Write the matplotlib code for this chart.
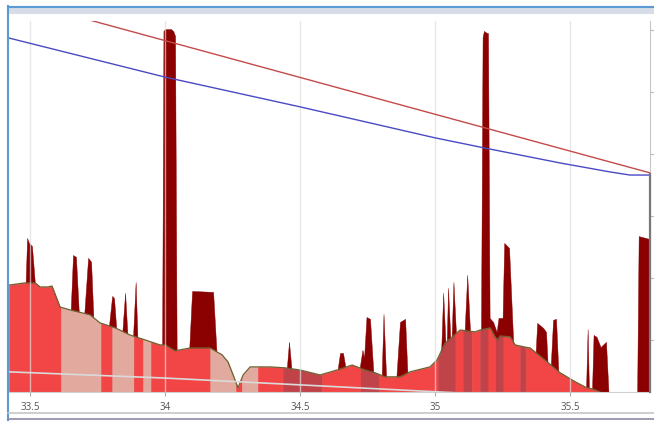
import numpy as np
import matplotlib.pyplot as plt
import matplotlib
from matplotlib.lines import Line2D
from matplotlib.patches import Rectangle

matplotlib.use('Agg')

# Elevation profile (distance in km, elevation)
prof_km = [33.422, 33.481, 33.519, 33.537, 33.567, 33.581, 33.611, 33.648, 33.722, 33.759,
           33.815, 33.870, 33.926, 33.981, 34.000, 34.037, 34.093, 34.167, 34.211, 34.233,
           34.252, 34.270, 34.289, 34.315, 34.389, 34.444, 34.500, 34.574, 34.637, 34.693,
           34.741, 34.778, 34.815, 34.870, 34.907, 34.981, 35.007, 35.037, 35.093, 35.148,
           35.167, 35.204, 35.222, 35.230, 35.241, 35.278, 35.296, 35.333, 35.352, 35.407,
           35.463, 35.519, 35.556, 35.593, 35.611, 35.620]
prof_val = [37.7, 38.4, 38.4, 37.1, 37.1, 37.4, 30.6, 29.7, 28.1, 25.5,
            23.9, 21.6, 20.0, 18.4, 18.4, 16.5, 17.4, 17.4, 15.2, 12.9,
            8.7, 4.5, 8.7, 11.3, 11.3, 11.0, 10.3, 8.7, 10.3, 11.9,
            10.3, 9.4, 8.1, 8.1, 9.7, 11.3, 13.5, 19.0, 23.2, 22.6,
            23.2, 23.9, 21.0, 20.0, 21.3, 21.0, 18.4, 17.7, 17.4, 13.5,
            9.4, 6.5, 4.8, 3.9, 3.2, 0.0]

# Dark series, one group per spike, rising from about the profile level
spike_km = [
    [33.483, 33.489, 33.496, 33.507, 33.519],
    [33.650, 33.659, 33.670, 33.681],
    [33.700, 33.715, 33.726, 33.735],
    [33.791, 33.804, 33.811, 33.820],
    [33.841, 33.852, 33.861],
    [33.881, 33.891, 33.898],
    [33.989, 33.994, 34.000, 34.022, 34.030, 34.037, 34.043],
    [34.089, 34.100, 34.178, 34.191],
    [34.450, 34.459, 34.469],
    [34.637, 34.648, 34.659, 34.670],
    [34.719, 34.731, 34.737, 34.746, 34.759, 34.772],
    [34.802, 34.809, 34.819],
    [34.856, 34.870, 34.889, 34.898],
    [35.022, 35.030, 35.039],
    [35.043, 35.048, 35.057],
    [35.061, 35.068, 35.078],
    [35.109, 35.119, 35.130],
    [35.170, 35.176, 35.181, 35.192, 35.196, 35.202, 35.215, 35.228, 35.235,
     35.250, 35.256, 35.274, 35.289, 35.293],
    [35.372, 35.378, 35.400, 35.411, 35.417],
    [35.428, 35.437, 35.448, 35.457],
    [35.559, 35.565, 35.570],
    [35.581, 35.587, 35.598, 35.613, 35.633, 35.644],
    [35.748, 35.754, 35.793, 35.796],
]
spike_val = [
    [37.0, 52.9, 51.3, 50.3, 37.0],
    [28.5, 47.4, 46.8, 28.0],
    [27.5, 46.5, 45.2, 26.0],
    [23.5, 34.2, 33.5, 22.7],
    [21.8, 35.2, 21.0],
    [20.3, 38.7, 19.8],
    [17.4, 119.7, 120.3, 120.3, 119.7, 118.1, 15.6],
    [16.3, 35.8, 35.5, 15.3],
    [9.9, 19.4, 9.7],
    [9.3, 15.8, 15.8, 10.1],
    [10.0, 16.8, 14.2, 27.4, 26.8, 8.6],
    [7.5, 28.4, 7.1],
    [7.1, 25.8, 26.8, 8.2],
    [15.0, 35.2, 18.0],
    [18.5, 36.8, 19.5],
    [19.8, 38.7, 21.0],
    [22.0, 41.0, 21.8],
    [22.2, 117.8, 119.7, 119.0, 119.0, 27.1, 25.8, 22.6, 27.1,
     27.1, 51.3, 49.7, 20.0, 17.8],
    [15.0, 25.5, 23.9, 22.6, 11.8],
    [11.0, 26.5, 26.8, 8.8],
    [3.7, 23.5, 3.4],
    [3.0, 21.6, 21.0, 17.7, 19.4, 0],
    [0, 53.5, 52.6, 52.6],
]

# Shading bands along the profile
band_edges = [33.422, 33.615, 33.763, 33.804, 33.885, 33.919, 33.948, 34.167, 34.263,
              34.285, 34.344, 34.437, 34.581, 34.726, 34.793, 35.011, 35.074, 35.104,
              35.137, 35.167, 35.196, 35.226, 35.252, 35.315, 35.337, 35.620]
band_kind = ['r', 'p', 'r', 'p', 'r', 'p', 'r', 'p', 'r', 'p', 'r', 'd', 'r',
             'd', 'r', 'd', 'r', 'd', 'r', 'd', 'r', 'd', 'r', 'd', 'r']

# Lines
blue_km = [33.422, 34.000, 34.500, 35.000, 35.185, 35.463, 35.648, 35.722, 35.796]
blue_val = [117.4, 104.8, 95.2, 85.2, 81.9, 77.1, 74.2, 73.2, 73.2]
red_km = [33.422, 35.796]
red_val = [130.3, 73.9]
grey_km = [33.422, 34.000, 34.500, 35.019, 35.300]
grey_val = [9.7, 7.7, 5.5, 3.2, 2.0]

xticks = [33.5, 34, 34.5, 35, 35.5]
xtick_labels = ['33.5', '34', '34.5', '35', '35.5']
yticks = [20, 40, 60, 80, 100, 120]

band_colors = {'r': '#F24545', 'p': '#E2AA9F', 'd': '#C0434A'}

W, H = 654, 422
fig = plt.figure(figsize=(W / 100, H / 100), dpi=100)
ax = fig.add_axes([9 / W, 1 - 392 / H, 641 / W, 371 / H])

# dark spikes behind the profile
for gk, gv in zip(spike_km, spike_val):
    ax.fill_between(gk, 0, gv, color='#8B0000', lw=0.3, edgecolor='#8B0000', zorder=1)

px = np.array(prof_km)
pv = np.array(prof_val)
for a, b, k in zip(band_edges[:-1], band_edges[1:], band_kind):
    inner = px[(px > a) & (px < b)]
    xs = np.concatenate([[a], inner, [b]])
    ys = np.interp(xs, px, pv)
    ax.fill_between(xs, 0, ys, color=band_colors[k], lw=0.4,
                    edgecolor=band_colors[k], zorder=1.2)
ax.plot(prof_km, prof_val, color='#6E6232', lw=0.9, zorder=1.5)

ax.plot(grey_km, grey_val, color='#DADADA', lw=1.2, zorder=2)
ax.plot(blue_km, blue_val, color='#4A4AC4', lw=1.0, zorder=3)
ax.plot(red_km, red_val, color='#C44A4A', lw=1.0, zorder=3)
ax.plot([35.796, 35.796], [73.5, 3.2], color='#787878', lw=1.6, zorder=4, clip_on=False)

ax.set_xlim(33.422, 35.796)
ax.set_ylim(3.2, 122.9)

ax.set_xticks(xticks)
ax.set_xticklabels(xtick_labels, fontsize=7, color='#555555', family='Open Sans')
ax.tick_params(axis='x', length=3, color='#AAAAAA', pad=4)
ax.yaxis.tick_right()
ax.set_yticks(yticks)
ax.tick_params(axis='y', length=4, color='#BBBBBB', labelright=False)

ax.set_axisbelow(False)
ax.grid(axis='x', color='#DDDDDD', alpha=0.7, lw=1)

for side in ['top', 'left']:
    ax.spines[side].set_visible(False)
ax.spines['bottom'].set_color('#D0D0D0')
ax.spines['right'].set_color('#C8C8C8')

# window frame around the chart
fig.add_artist(Rectangle((8 / W, 1 - 14 / H), 1, 7 / H, transform=fig.transFigure,
                         color='#D6DDE6', lw=0))
fig.add_artist(Line2D([8 / W, 1], [1 - 6.5 / H, 1 - 6.5 / H], transform=fig.transFigure,
                      color='#5B9BD5', lw=1.5))
fig.add_artist(Line2D([8 / W, 8 / W], [1 - 6 / H, 1 - 420 / H], transform=fig.transFigure,
                      color='#5B9BD5', lw=1.5))
fig.add_artist(Line2D([8 / W, 1], [1 - 413 / H, 1 - 413 / H], transform=fig.transFigure,
                      color='#C6C6C6', lw=1.2))
fig.add_artist(Line2D([8 / W, 1], [1 - 419 / H, 1 - 419 / H], transform=fig.transFigure,
                      color='#8E8AA4', lw=1.2))

plt.savefig('out.png', dpi=100)
